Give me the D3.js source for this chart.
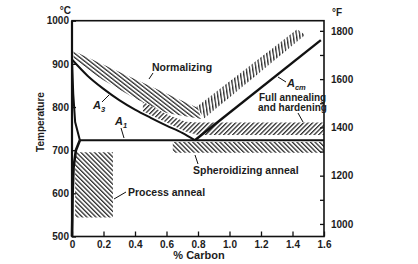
<!DOCTYPE html>
<html>
<head>
<meta charset="utf-8">
<script src="https://cdn.jsdelivr.net/npm/d3@7"></script>
<style>
body { margin: 0; background: #fff; }
text { font-family: "Liberation Sans", Arial, sans-serif; font-weight: bold; fill: #1c1c1c; }
</style>
</head>
<body>
<svg width="418" height="264"></svg>
<script>
// phase boundaries as [% carbon, deg C]
var a3Line = [[0,910],[0.1,872],[0.2,842],[0.3,816],[0.4,794],[0.5,775],[0.6,757],[0.7,740],[0.78,723]];
var acmLine = [[0.78,723],[1.58,955]];
var a1Line = [[0.05,723],[1.6,723]];
var alphaLine = [[0,910],[0.008,830],[0.02,765],[0.05,723]];
var solvusLine = [[0.05,723],[0.025,700],[0.01,660],[0.004,600],[0.002,540],[0,500]];

// heat treatment zones
var normalizingLow = [[0.01,930],[0.8,798],[0.82,772],[0.6,786],[0.4,820],[0.2,862],[0.1,886],[0.01,912]];
var normalizingHigh = [[0.79,800],[1.43,980],[1.48,967],[0.84,774]];
var fullAnnealing = [[0.45,812],[0.6,783],[0.72,766],[0.8,764],[1.6,764],[1.6,735],[0.8,735],[0.72,743],[0.6,764],[0.45,790]];
var spheroidizing = [[0.64,719],[1.6,719],[1.6,694],[0.64,694]];
var processAnneal = [[0.02,695],[0.26,695],[0.26,544],[0.02,544]];

// axes
var carbonTicks = [0, 0.2, 0.4, 0.6, 0.8, 1.0, 1.2, 1.4, 1.6];
var celsiusTicks = [500, 600, 700, 800, 900, 1000];
var fahrenheitTicks = [1000, 1200, 1400, 1600, 1800];
var fahrenheitMinor = [1100, 1300, 1500, 1700];

var svg = d3.select("svg");

var x = d3.scaleLinear().domain([0, 1.6]).range([72, 324]);
var y = d3.scaleLinear().domain([500, 1000]).range([236.5, 20.7]);
// right hand scale as printed on the chart
var yF = d3.scaleLinear().domain([948, 1842]).range([236.5, 20.7]);

var line = d3.line()
  .x(function(d) { return x(d[0]); })
  .y(function(d) { return y(d[1]); });
var curve = d3.line()
  .x(function(d) { return x(d[0]); })
  .y(function(d) { return y(d[1]); })
  .curve(d3.curveMonotoneX);

var defs = svg.append("defs");
function hatch(id, angle, gap) {
  defs.append("pattern")
    .attr("id", id)
    .attr("patternUnits", "userSpaceOnUse")
    .attr("width", gap)
    .attr("height", gap)
    .attr("patternTransform", "rotate(" + angle + ")")
    .append("rect")
    .attr("width", 1.3)
    .attr("height", gap)
    .attr("fill", "#2e2e2e");
}
hatch("hNormLow", -52, 3.2);
hatch("hNormHigh", -8, 3.2);
hatch("hFull", 45, 3.2);
hatch("hSphero", -45, 3.2);
hatch("hProcess", -45, 3.2);

var zones = [
  {pts: normalizingLow, fill: "hNormLow"},
  {pts: normalizingHigh, fill: "hNormHigh"},
  {pts: fullAnnealing, fill: "hFull"},
  {pts: spheroidizing, fill: "hSphero"},
  {pts: processAnneal, fill: "hProcess"}
];

svg.append("g")
  .selectAll("path")
  .data(zones)
  .enter().append("path")
  .attr("d", function(d) { return line(d.pts) + "Z"; })
  .attr("fill", function(d) { return "url(#" + d.fill + ")"; });

// frame
svg.append("rect")
  .attr("x", x(0)).attr("y", y(1000))
  .attr("width", x(1.6) - x(0)).attr("height", y(500) - y(1000))
  .attr("fill", "none").attr("stroke", "#111").attr("stroke-width", 1.6);

// axes with inward ticks
var bottom = svg.append("g")
  .attr("transform", "translate(0," + y(500) + ")")
  .call(d3.axisBottom(x).tickValues(carbonTicks).tickSize(-5).tickPadding(4)
    .tickFormat(function(d) { return d === 0 ? "0" : d3.format(".1f")(d); }));
var left = svg.append("g")
  .attr("transform", "translate(" + x(0) + ",0)")
  .call(d3.axisLeft(y).tickValues(celsiusTicks).tickSize(-4).tickPadding(3).tickFormat(d3.format("d")));
var right = svg.append("g")
  .attr("transform", "translate(" + x(1.6) + ",0)")
  .call(d3.axisRight(yF).tickValues(fahrenheitTicks).tickSize(-4).tickPadding(7).tickFormat(d3.format("d")));
var rightMinor = svg.append("g")
  .attr("transform", "translate(" + x(1.6) + ",0)")
  .call(d3.axisRight(yF).tickValues(fahrenheitMinor).tickSize(-4).tickFormat(""));

[bottom, left, right, rightMinor].forEach(function(g) {
  g.select(".domain").remove();
  g.selectAll(".tick line").attr("stroke", "#111").attr("stroke-width", 1.3);
  g.selectAll("text").attr("font-size", 10).attr("fill", "#1c1c1c")
    .style("font-family", "\"Liberation Sans\", Arial, sans-serif").style("font-weight", "bold");
});

// phase lines
svg.append("path").attr("d", curve(a3Line)).attr("fill", "none").attr("stroke", "#111").attr("stroke-width", 2);
svg.append("path").attr("d", line(acmLine)).attr("fill", "none").attr("stroke", "#111").attr("stroke-width", 2.4);
svg.append("path").attr("d", line(a1Line)).attr("fill", "none").attr("stroke", "#111").attr("stroke-width", 2);
svg.append("path").attr("d", line(alphaLine)).attr("fill", "none").attr("stroke", "#111").attr("stroke-width", 2);
svg.append("path").attr("d", line(solvusLine)).attr("fill", "none").attr("stroke", "#111").attr("stroke-width", 2.6);
svg.append("line").attr("x1", x(0)).attr("x2", x(0)).attr("y1", y(1000)).attr("y2", y(500))
  .attr("stroke", "#111").attr("stroke-width", 2.2);

// unit and axis titles
svg.append("text").attr("x", 71).attr("y", 14).attr("text-anchor", "end").attr("font-size", 10).text("°C");
svg.append("text").attr("x", 332).attr("y", 16).attr("font-size", 10).text("°F");
svg.append("text").attr("transform", "translate(44,122) rotate(-90)")
  .attr("text-anchor", "middle").attr("font-size", 10).text("Temperature");
svg.append("text").attr("x", 199).attr("y", 259).attr("text-anchor", "middle").attr("font-size", 11).text("% Carbon");

// annotations
function label(px, py, str, size) {
  return svg.append("text").attr("x", px).attr("y", py).attr("font-size", size || 10.5).text(str);
}
function leader(x1, y1, x2, y2) {
  svg.append("line").attr("x1", x1).attr("y1", y1).attr("x2", x2).attr("y2", y2)
    .attr("stroke", "#111").attr("stroke-width", 1);
}
function phase(px, py, sub) {
  var t = svg.append("text").attr("x", px).attr("y", py).attr("font-size", 11).style("font-style", "italic");
  t.append("tspan").text("A");
  t.append("tspan").attr("dy", 3).attr("font-size", 7.5).text(sub);
}

label(152, 71, "Normalizing");
leader(153, 73, 149, 79);
phase(93, 109, "3");
leader(102, 102, 109, 95);
phase(115, 125, "1");
leader(121, 128, 124, 138);
phase(287, 87, "cm");
leader(286, 82, 278, 77);
label(259, 101, "Full annealing", 10);
label(258, 111, "and hardening", 10);
leader(298, 113, 303, 122);
label(193, 174, "Spheroidizing anneal");
leader(198, 164, 195, 155);
label(128, 196, "Process anneal");
leader(126, 192, 114, 199);
</script>
</body>
</html>
